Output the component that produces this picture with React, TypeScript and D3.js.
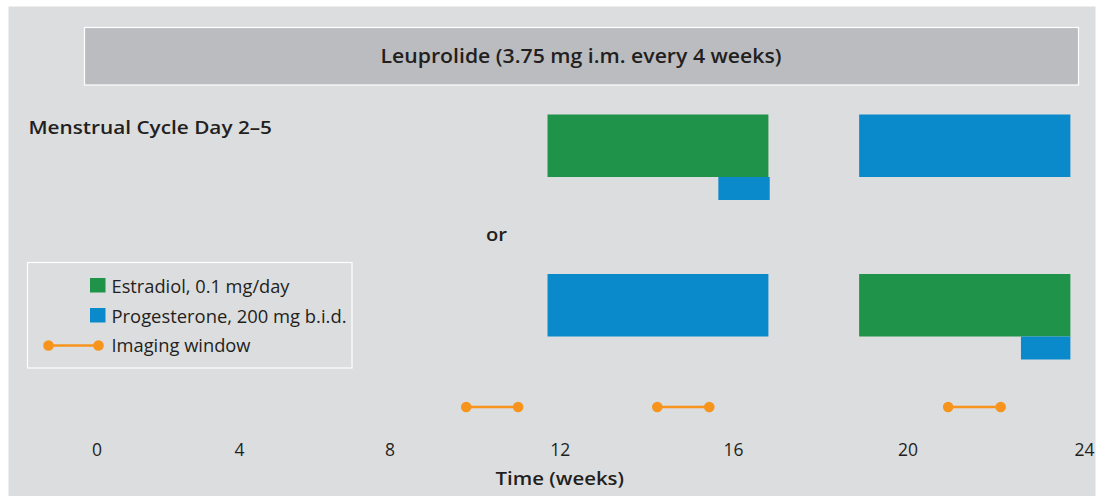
import React from "react";
import * as d3 from "d3";

// ---- data (weeks) ----
const weekTicks = [0, 4, 8, 12, 16, 20, 24];
const drugs = ["Estradiol", "Progesterone"];
const legendLabels = ["Estradiol, 0.1 mg/day", "Progesterone, 200 mg b.i.d.", "Imaging window"];
const rowLabels = ["Menstrual Cycle Day 2–5", "or"];

// sequence A (top row)
const rowATreatments = [
  { drug: "Estradiol", lane: "main", start: 11.7, end: 16.8 },
  { drug: "Progesterone", lane: "sub", start: 15.65, end: 16.83 },
  { drug: "Progesterone", lane: "main", start: 18.88, end: 23.68 },
];
// sequence B (bottom row)
const rowBTreatments = [
  { drug: "Progesterone", lane: "main", start: 11.7, end: 16.8 },
  { drug: "Estradiol", lane: "main", start: 18.88, end: 23.68 },
  { drug: "Progesterone", lane: "sub", start: 22.56, end: 23.68 },
];
const imagingWindows = [
  [9.79, 11.01],
  [14.24, 15.44],
  [20.91, 22.1],
];
const leuprolideLabel = "Leuprolide (3.75 mg i.m. every 4 weeks)";
const axisTitle = "Time (weeks)";

const FONT = "'Open Sans', Lato, sans-serif";
const TEXT = "#231f20";
const color = d3.scaleOrdinal<string, string>().domain(drugs).range(["#1e9349", "#0a8acb"]);
const ORANGE = "#f7941d";

export default function App() {
  const W = 1105;
  const H = 496;
  // axis is drawn with uneven tick spacing in the original
  const x = d3
    .scaleLinear()
    .domain(weekTicks)
    .range([97, 239.5, 390, 560.3, 733.5, 908, 1084.5]);

  const rows = [
    { top: 114.5, data: rowATreatments },
    { top: 274, data: rowBTreatments },
  ];
  const mainH = 62.5;
  const subH = 23;
  const imgY = 407;
  const legendW = [178, 235, 139];

  return (
    <svg
      width={W}
      height={H}
      style={{ position: "absolute", left: 0, top: 0, background: "#fff" }}
      fontFamily={FONT}
    >
      <rect x={8.5} y={6.5} width={1087} height={H} fill="#dcdddf" />
      {/* Leuprolide bar */}
      <rect x={84.5} y={27.5} width={994} height={57.5} fill="#bbbcbf" stroke="#fff" strokeWidth={1.2} />
      <text x={380.5} y={62.5} fontSize={19} fontWeight={600} fill={TEXT} textLength={401} lengthAdjust="spacingAndGlyphs">
        {leuprolideLabel}
      </text>

      <text x={28.5} y={133.5} fontSize={18.5} fontWeight={600} fill={TEXT} textLength={243.5} lengthAdjust="spacingAndGlyphs">
        {rowLabels[0]}
      </text>
      <text x={486} y={241} fontSize={18.5} fontWeight={600} fill={TEXT} textLength={21} lengthAdjust="spacingAndGlyphs">
        {rowLabels[1]}
      </text>

      {rows.map((r, ri) => (
        <g key={ri}>
          {r.data.map((d, i) => (
            <rect
              key={i}
              x={x(d.start)}
              y={d.lane === "main" ? r.top : r.top + mainH}
              width={x(d.end) - x(d.start)}
              height={d.lane === "main" ? mainH : subH}
              fill={color(d.drug)}
            />
          ))}
        </g>
      ))}

      {imagingWindows.map((w, i) => (
        <g key={i}>
          <line x1={x(w[0])} x2={x(w[1])} y1={imgY} y2={imgY} stroke={ORANGE} strokeWidth={2.5} />
          <circle cx={x(w[0])} cy={imgY} r={5.3} fill={ORANGE} />
          <circle cx={x(w[1])} cy={imgY} r={5.3} fill={ORANGE} />
        </g>
      ))}

      {/* legend */}
      <rect x={27.5} y={262.5} width={324.5} height={105.5} fill="none" stroke="#fff" strokeWidth={1.2} />
      {drugs.map((d, i) => (
        <g key={d}>
          <rect x={90} y={278 + i * 30} width={15.5} height={14.5} fill={color(d)} />
          <text x={111.5} y={292.5 + i * 30} fontSize={17.5} fill={TEXT} textLength={legendW[i]} lengthAdjust="spacingAndGlyphs">
            {legendLabels[i]}
          </text>
        </g>
      ))}
      <line x1={48.5} x2={98.5} y1={345.5} y2={345.5} stroke={ORANGE} strokeWidth={2.5} />
      <circle cx={48.5} cy={345.5} r={5.3} fill={ORANGE} />
      <circle cx={98.5} cy={345.5} r={5.3} fill={ORANGE} />
      <text x={111.5} y={351.5} fontSize={17.5} fill={TEXT} textLength={legendW[2]} lengthAdjust="spacingAndGlyphs">
        {legendLabels[2]}
      </text>

      {/* axis */}
      {weekTicks.map((t) => (
        <text key={t} x={x(t)} y={456} textAnchor="middle" fontSize={17.5} fill={TEXT}>
          {t}
        </text>
      ))}
      <text x={495.5} y={484.5} fontSize={18} fontWeight={600} fill={TEXT} textLength={128.5} lengthAdjust="spacingAndGlyphs">
        {axisTitle}
      </text>
    </svg>
  );
}
